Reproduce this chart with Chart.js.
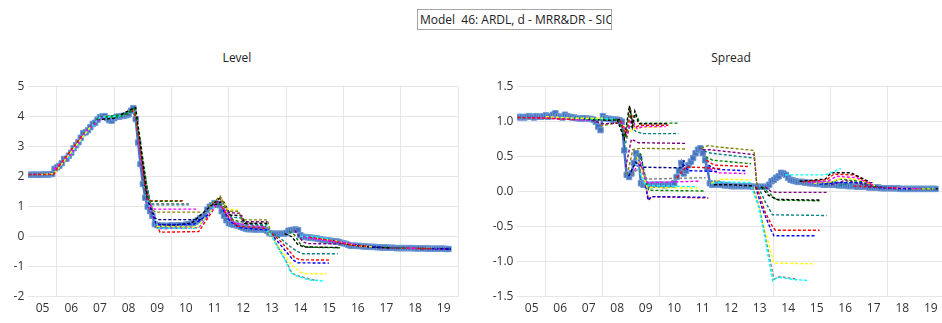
<!DOCTYPE html>
<html>
<head>
<meta charset="utf-8">
<script src="https://cdn.jsdelivr.net/npm/chart.js@4.4.1/dist/chart.umd.min.js"></script>
<style>
  html, body { margin: 0; padding: 0; background: #fff; overflow: hidden; }
  #wrap { position: relative; width: 942px; height: 323px; overflow: hidden; font-family: "Open Sans", sans-serif; color: #333; }
  #title { position: absolute; left: 417px; top: 9px; width: 195px; height: 21px; box-sizing: border-box; border: 1px solid #a6a6a6;
           font-size: 12px; line-height: 19px; padding-left: 2px; white-space: nowrap; overflow: hidden; color: #222; }
  .ptitle { position: absolute; top: 49px; font-size: 12px; line-height: 17px; transform: translateX(-50%); color: #222; }
  canvas { position: absolute; top: 0; }
</style>
</head>
<body>
<div id="wrap">
  <div id="title">Model&nbsp; 46: ARDL, d - MRR&amp;DR - SIC</div>
  <div class="ptitle" style="left:237px">Level</div>
  <div class="ptitle" style="left:731px">Spread</div>
  <canvas id="levelChart" width="470" height="323" style="left:0"></canvas>
  <canvas id="spreadChart" width="480" height="323" style="left:470px"></canvas>
</div>
<script>
// monthly observations, Jan 2005 .. Sep 2019
const firstYear = 2005;

const levelActual = [
  2.07, 2.06, 2.07, 2.07, 2.06, 2.07, 2.07, 2.08, 2.07, 2.08, 2.09, 2.26,
  2.31, 2.36, 2.45, 2.59, 2.6, 2.7, 2.8, 2.95, 3.05, 3.15, 3.3, 3.45,
  3.48, 3.55, 3.65, 3.76, 3.8, 3.9, 3.98, 4.01, 4.02, 3.95, 3.88, 3.87,
  3.95, 4.0, 4.0, 4.02, 4.03, 4.05, 4.08, 4.2, 4.28, 3.92, 3.14, 2.42,
  1.76, 1.3, 1.0, 0.85, 0.7, 0.42, 0.38, 0.37, 0.37, 0.36, 0.36, 0.37,
  0.38, 0.37, 0.37, 0.38, 0.38, 0.38, 0.4, 0.42, 0.43, 0.45, 0.5, 0.55,
  0.62, 0.66, 0.7, 0.9, 1.0, 1.05, 1.12, 1.1, 1.05, 0.85, 0.7, 0.55,
  0.45, 0.42, 0.4, 0.38, 0.36, 0.33, 0.3, 0.27, 0.25, 0.25, 0.25, 0.24,
  0.24, 0.25, 0.24, 0.24, 0.2, 0.12, 0.1, 0.1, 0.1, 0.1, 0.1, 0.1,
  0.12, 0.2, 0.22, 0.23, 0.24, 0.22, 0.05, 0.0, -0.01, -0.02, -0.03, -0.04,
  -0.05, -0.06, -0.08, -0.1, -0.11, -0.12, -0.13, -0.14, -0.15, -0.16, -0.17, -0.2,
  -0.22, -0.24, -0.27, -0.3, -0.3, -0.3, -0.31, -0.31, -0.32, -0.33, -0.33, -0.34,
  -0.34, -0.34, -0.35, -0.35, -0.36, -0.36, -0.36, -0.37, -0.37, -0.37, -0.38, -0.38,
  -0.38, -0.38, -0.38, -0.38, -0.38, -0.38, -0.39, -0.39, -0.39, -0.39, -0.39, -0.39,
  -0.4, -0.4, -0.4, -0.4, -0.4, -0.4, -0.4, -0.41, -0.41
];

const spreadActual = [
  1.07, 1.06, 1.07, 1.06, 1.07, 1.08, 1.07, 1.06, 1.08, 1.07, 1.07, 1.08,
  1.09, 1.07, 1.08, 1.1, 1.12, 1.08, 1.07, 1.06, 1.1, 1.08, 1.07, 1.06,
  1.06, 1.05, 1.05, 1.04, 1.05, 1.05, 1.04, 1.04, 1.03, 1.0, 0.93, 0.88,
  1.08, 1.05, 1.04, 1.04, 1.03, 1.03, 1.03, 1.02, 1.0, 0.59, 0.24, 0.21,
  0.26, 0.41, 0.55, 0.5, 0.12, 0.1, 0.1, 0.1, 0.09, 0.1, 0.1, 0.1,
  0.1, 0.1, 0.09, 0.1, 0.1, 0.1, 0.12, 0.21, 0.3, 0.41, 0.26, 0.3,
  0.38, 0.43, 0.48, 0.55, 0.6, 0.62, 0.55, 0.45, 0.33, 0.12, 0.1, 0.1,
  0.12, 0.1, 0.1, 0.09, 0.09, 0.09, 0.08, 0.08, 0.08, 0.08, 0.08, 0.08,
  0.08, 0.08, 0.08, 0.07, 0.07, 0.07, 0.07, 0.07, 0.07, 0.07, 0.1, 0.15,
  0.17, 0.2, 0.22, 0.27, 0.26, 0.24, 0.2, 0.17, 0.16, 0.15, 0.14, 0.14,
  0.14, 0.13, 0.13, 0.12, 0.12, 0.12, 0.11, 0.11, 0.11, 0.1, 0.1, 0.1,
  0.1, 0.1, 0.1, 0.09, 0.09, 0.09, 0.09, 0.08, 0.08, 0.08, 0.08, 0.07,
  0.07, 0.07, 0.07, 0.07, 0.06, 0.06, 0.06, 0.06, 0.06, 0.05, 0.05, 0.05,
  0.05, 0.05, 0.05, 0.05, 0.05, 0.04, 0.04, 0.04, 0.04, 0.04, 0.04, 0.04,
  0.04, 0.04, 0.04, 0.04, 0.04, 0.04, 0.04, 0.04, 0.04
];

// forecast paths: [date, value] break points
const levelForecasts = [
  [[2005.0, 2.07], [2005.9, 2.08], [2006.0, 2.27], [2006.9, 3.4]],
  [[2005.4, 2.07], [2005.9, 2.1], [2006.3, 2.58], [2007.2, 3.7]],
  [[2005.9, 2.25], [2006.5, 2.75], [2007.0, 3.5], [2007.6, 4.0]],
  [[2006.4, 2.6], [2007.0, 3.45], [2007.5, 3.98], [2008.3, 4.03]],
  [[2006.9, 3.4], [2007.5, 4.0], [2008.2, 4.0], [2008.6, 4.2]],
  [[2007.4, 3.9], [2008.0, 3.95], [2008.6, 4.25], [2008.75, 4.3], [2009.15, 1.3]],
  [[2007.7, 4.0], [2008.5, 4.1], [2008.7, 4.28], [2008.85, 3.6], [2009.2, 1.3], [2009.25, 1.18], [2010.35, 1.18]],
  [[2008.6, 4.25], [2008.75, 4.0], [2009.15, 1.3], [2009.2, 1.2], [2010.4, 1.2]],
  [[2008.7, 4.2], [2008.85, 3.4], [2009.2, 1.2], [2009.3, 1.1], [2010.6, 1.1]],
  [[2008.8, 3.7], [2008.95, 2.7], [2009.25, 1.15], [2009.35, 1.06], [2010.6, 1.06]],
  [[2008.85, 3.2], [2009.0, 2.2], [2009.3, 1.0], [2009.4, 0.92], [2010.9, 0.92]],
  [[2008.9, 3.0], [2009.05, 1.8], [2009.35, 0.88], [2009.45, 0.82], [2011.0, 0.82]],
  [[2008.95, 2.6], [2009.1, 1.5], [2009.4, 0.65], [2009.5, 0.57], [2011.05, 0.57]],
  [[2009.0, 2.3], [2009.15, 1.25], [2009.45, 0.45], [2009.55, 0.4], [2010.8, 0.42], [2011.3, 0.75]],
  [[2009.05, 1.8], [2009.2, 1.1], [2009.5, 0.35], [2010.9, 0.32], [2011.4, 0.9]],
  [[2009.1, 1.4], [2009.3, 0.85], [2009.55, 0.28], [2010.9, 0.28], [2011.5, 1.0]],
  [[2009.15, 1.2], [2009.35, 0.65], [2009.6, 0.27], [2010.95, 0.3], [2011.55, 1.05]],
  [[2009.2, 1.0], [2009.45, 0.45], [2009.6, 0.15], [2010.95, 0.17], [2011.6, 1.1]],
  [[2009.5, 0.42], [2010.0, 0.38], [2010.7, 0.45], [2011.4, 1.05], [2011.7, 1.3]],
  [[2011.3, 1.0], [2011.7, 1.35], [2011.95, 0.85], [2012.35, 0.85], [2012.45, 0.56], [2013.35, 0.56], [2013.45, 0.15]],
  [[2011.35, 1.02], [2011.72, 1.3], [2011.95, 0.92], [2012.3, 0.9]],
  [[2011.4, 1.05], [2011.75, 1.25], [2012.0, 0.8], [2012.4, 0.78], [2012.5, 0.5], [2013.35, 0.5]],
  [[2011.5, 1.05], [2011.8, 1.2], [2012.05, 0.72], [2012.45, 0.7], [2012.55, 0.45], [2013.35, 0.45]],
  [[2011.6, 1.1], [2011.85, 1.1], [2012.1, 0.65], [2012.5, 0.62], [2012.6, 0.4], [2013.35, 0.4]],
  [[2011.65, 1.1], [2011.9, 0.95], [2012.15, 0.55], [2013.3, 0.35]],
  [[2011.7, 1.05], [2011.95, 0.8], [2012.2, 0.45], [2013.3, 0.32]],
  [[2011.75, 1.0], [2012.0, 0.65], [2012.3, 0.35], [2013.3, 0.28]],
  [[2011.8, 0.9], [2012.05, 0.5], [2012.4, 0.3], [2013.35, 0.22]],
  [[2013.3, 0.22], [2013.45, 0.1], [2013.7, -0.35], [2014.0, -0.85], [2014.17, -1.2], [2014.35, -1.3], [2014.8, -1.44], [2015.35, -1.48]],
  [[2013.35, 0.2], [2013.5, 0.05], [2013.75, -0.4], [2014.05, -0.9], [2014.2, -1.22], [2014.4, -1.3], [2014.85, -1.42], [2015.1, -1.46]],
  [[2013.4, 0.12], [2013.6, -0.15], [2013.9, -0.55], [2014.2, -0.95], [2014.5, -1.18], [2014.65, -1.23], [2015.4, -1.24]],
  [[2013.45, 0.1], [2013.7, -0.15], [2014.0, -0.5], [2014.25, -0.78], [2014.4, -0.87], [2015.5, -0.88]],
  [[2013.5, 0.1], [2013.75, -0.1], [2014.05, -0.4], [2014.3, -0.7], [2014.5, -0.77], [2015.5, -0.78]],
  [[2013.55, 0.1], [2013.8, -0.05], [2014.1, -0.3], [2014.4, -0.5], [2014.6, -0.57], [2015.8, -0.57]],
  [[2013.95, 0.1], [2014.2, 0.0], [2014.4, -0.25], [2014.6, -0.34], [2015.8, -0.36]],
  [[2014.1, 0.18], [2014.3, 0.05], [2014.5, -0.25], [2014.7, -0.35], [2015.9, -0.37]],
  [[2014.3, 0.22], [2014.45, 0.0], [2014.6, -0.18], [2014.75, -0.23], [2015.95, -0.24]],
  [[2014.6, 0.0], [2015.0, -0.08], [2015.6, -0.15], [2016.4, -0.25]],
  [[2014.8, -0.02], [2015.5, -0.12], [2016.2, -0.27], [2016.8, -0.32]],
  [[2015.0, -0.05], [2015.7, -0.14], [2016.4, -0.29], [2017.0, -0.34]],
  [[2015.3, -0.1], [2016.0, -0.2], [2016.6, -0.3], [2017.3, -0.36]],
  [[2015.6, -0.13], [2016.3, -0.28], [2017.0, -0.35], [2017.6, -0.37]],
  [[2014.5, 0.02], [2015.0, 0.0], [2015.5, -0.08]],
  [[2016.0, -0.22], [2016.8, -0.32], [2017.6, -0.37], [2018.2, -0.38]],
  [[2016.5, -0.3], [2017.3, -0.36], [2018.0, -0.38], [2018.6, -0.39]],
  [[2017.0, -0.35], [2017.8, -0.38], [2018.6, -0.39], [2019.0, -0.4]],
  [[2017.5, -0.37], [2018.3, -0.38], [2019.0, -0.4], [2019.7, -0.41]],
  [[2018.0, -0.38], [2018.8, -0.39], [2019.4, -0.4]],
  [[2018.5, -0.39], [2019.2, -0.4], [2019.75, -0.41]],
  [[2019.0, -0.4], [2019.7, -0.4]]
];

const spreadForecasts = [
  [[2005.0, 1.06], [2006.0, 1.05], [2007.0, 1.03]],
  [[2005.5, 1.06], [2006.5, 1.04], [2007.5, 1.02]],
  [[2006.0, 1.07], [2007.0, 1.05], [2008.0, 1.05]],
  [[2006.5, 1.06], [2007.5, 1.04], [2008.4, 1.04]],
  [[2007.0, 1.05], [2008.0, 1.03], [2008.5, 1.03]],
  [[2007.3, 1.04], [2008.2, 1.02], [2008.6, 1.03]],
  [[2007.6, 1.02], [2008.0, 0.97], [2008.55, 0.98]],
  [[2007.9, 0.94], [2008.3, 0.97], [2008.6, 0.99]],
  [[2008.5, 1.03], [2008.75, 0.75], [2008.93, 1.23], [2009.03, 0.93], [2009.12, 1.15], [2009.25, 0.97], [2010.3, 0.97]],
  [[2008.55, 1.03], [2008.78, 0.77], [2008.95, 1.2], [2009.05, 0.95], [2009.15, 1.12], [2009.3, 0.98], [2010.65, 0.98]],
  [[2008.6, 1.02], [2008.82, 0.8], [2008.98, 1.15], [2009.1, 0.92], [2009.35, 0.95], [2010.3, 0.95]],
  [[2008.65, 1.0], [2008.85, 0.82], [2009.0, 1.05], [2009.2, 0.9], [2009.4, 0.93], [2010.2, 0.93]],
  [[2008.7, 0.95], [2008.9, 0.85], [2009.1, 0.9], [2009.4, 0.92], [2010.0, 0.92]],
  [[2008.75, 0.62], [2008.95, 0.95], [2009.15, 0.86], [2009.4, 0.83], [2010.65, 0.83]],
  [[2008.8, 0.35], [2009.0, 0.75], [2009.25, 0.7], [2010.9, 0.69]],
  [[2008.85, 0.24], [2009.05, 0.6], [2009.3, 0.62], [2010.95, 0.61]],
  [[2008.9, 0.22], [2009.15, 0.42], [2009.4, 0.35], [2010.8, 0.34], [2010.85, 0.45]],
  [[2009.0, 0.24], [2009.25, 0.33], [2009.55, 0.18], [2011.6, 0.2]],
  [[2009.1, 0.3], [2009.3, 0.42], [2009.55, 0.13], [2011.4, 0.15]],
  [[2009.15, 0.4], [2009.5, 0.09], [2011.3, 0.07]],
  [[2009.2, 0.5], [2009.55, 0.06], [2011.4, 0.05]],
  [[2009.3, 0.55], [2009.6, 0.02], [2011.55, 0.01]],
  [[2009.35, 0.5], [2009.58, -0.12], [2009.7, -0.07], [2011.6, -0.08]],
  [[2009.4, 0.3], [2009.6, -0.12], [2009.72, -0.07], [2011.7, -0.09]],
  [[2010.6, 0.2], [2010.9, 0.35], [2011.2, 0.35], [2012.1, 0.33]],
  [[2010.8, 0.4], [2011.0, 0.3], [2012.0, 0.29]],
  [[2011.45, 0.62], [2011.7, 0.66], [2012.0, 0.64], [2013.3, 0.59], [2013.4, 0.1]],
  [[2011.5, 0.6], [2011.75, 0.6], [2013.3, 0.53], [2013.4, 0.1]],
  [[2011.55, 0.58], [2011.8, 0.55], [2013.3, 0.48]],
  [[2011.6, 0.5], [2011.85, 0.45], [2013.2, 0.4]],
  [[2011.63, 0.45], [2011.9, 0.38], [2013.1, 0.36]],
  [[2011.7, 0.38], [2011.95, 0.32], [2013.0, 0.3]],
  [[2011.75, 0.33], [2012.0, 0.27], [2013.0, 0.26]],
  [[2011.8, 0.12], [2012.1, 0.18], [2013.2, 0.17]],
  [[2011.85, 0.12], [2012.2, 0.14], [2013.25, 0.13]],
  [[2011.9, 0.1], [2012.5, 0.1], [2013.3, 0.08]],
  [[2013.2, 0.08], [2013.45, -0.2], [2013.7, -0.7], [2013.95, -1.27], [2014.15, -1.22], [2014.6, -1.25], [2015.2, -1.27]],
  [[2013.25, 0.08], [2013.5, -0.25], [2013.75, -0.75], [2014.0, -1.25], [2014.2, -1.21], [2014.8, -1.25]],
  [[2013.3, 0.07], [2013.55, -0.35], [2013.85, -0.8], [2014.0, -1.02], [2015.35, -1.03]],
  [[2013.35, 0.07], [2013.6, -0.25], [2013.9, -0.55], [2014.0, -0.63], [2015.43, -0.63]],
  [[2013.4, 0.07], [2013.7, -0.3], [2013.95, -0.5], [2014.05, -0.55], [2015.6, -0.55]],
  [[2013.45, 0.07], [2013.7, -0.15], [2013.95, -0.33], [2015.85, -0.34]],
  [[2013.55, 0.07], [2013.8, -0.05], [2014.1, -0.11], [2015.65, -0.12]],
  [[2013.6, 0.07], [2013.85, -0.03], [2014.1, -0.12], [2015.6, -0.13]],
  [[2013.7, 0.07], [2013.9, 0.0], [2014.1, -0.01], [2015.9, -0.01]],
  [[2014.4, 0.24], [2015.8, 0.24], [2016.35, 0.33]],
  [[2014.9, 0.15], [2015.8, 0.18], [2016.0, 0.27], [2016.7, 0.27], [2017.3, 0.15]],
  [[2015.0, 0.14], [2015.85, 0.17], [2016.1, 0.25], [2016.8, 0.24], [2017.4, 0.12]],
  [[2015.2, 0.13], [2015.9, 0.15], [2016.2, 0.22], [2016.9, 0.2], [2017.5, 0.09]],
  [[2015.4, 0.12], [2016.0, 0.14], [2016.4, 0.2], [2017.0, 0.17], [2017.6, 0.08]],
  [[2015.6, 0.11], [2016.0, 0.12], [2016.2, 0.13], [2017.5, 0.13]],
  [[2015.8, 0.1], [2016.3, 0.18], [2017.0, 0.15], [2017.6, 0.07]],
  [[2016.0, 0.1], [2016.5, 0.16], [2017.2, 0.1], [2017.8, 0.06]],
  [[2016.3, 0.09], [2016.8, 0.14], [2017.5, 0.08], [2018.0, 0.06]],
  [[2016.8, 0.08], [2017.5, 0.07], [2018.3, 0.05]],
  [[2017.3, 0.07], [2018.0, 0.05], [2018.8, 0.04]],
  [[2017.8, 0.06], [2018.5, 0.05], [2019.2, 0.04]],
  [[2018.3, 0.05], [2019.0, 0.04], [2019.6, 0.04]],
  [[2018.8, 0.04], [2019.5, 0.04], [2019.75, 0.04]],
  [[2019.0, 0.04], [2019.7, 0.05]]
];

// line colours, one per forecast path
const levelColors = [
  'red', 'yellow', 'magenta', 'cyan', 'green', 'black', 'green', 'red', 'gray', 'teal',
  'magenta', 'olive', 'navy', 'blue', 'yellow', 'cyan', 'magenta', 'red', 'black',
  'olive', 'yellow', 'purple', 'black', 'teal', 'green', 'magenta', 'red', 'blue',
  'cyan', 'gray', 'yellow', 'blue', 'red', 'teal', 'black', 'green', 'purple',
  'magenta', 'red', 'yellow', 'blue', 'black', 'cyan', 'green', 'magenta', 'red', 'blue', 'yellow', 'black', 'magenta'
];
const spreadColors = [
  'red', 'magenta', 'yellow', 'cyan', 'green', 'black', 'purple', 'olive',
  'black', 'green', 'red', 'magenta', 'yellow', 'teal', 'purple', 'olive', 'navy', 'gray', 'magenta', 'cyan', 'yellow', 'green', 'blue', 'red',
  'red', 'blue',
  'olive', 'purple', 'teal', 'green', 'red', 'blue', 'magenta', 'yellow', 'cyan', 'black',
  'cyan', 'gray', 'yellow', 'blue', 'red', 'teal', 'black', 'green', 'purple',
  'cyan', 'black', 'red', 'magenta', 'yellow', 'blue', 'green', 'purple', 'teal', 'red', 'blue', 'magenta', 'yellow', 'black', 'cyan'
];

const tickFont = { family: '"Open Sans", sans-serif', size: 12 };
const tickColor = '#333';
const gridColor = '#e6e6e6';

function buildChart(id, actual, forecasts, colors, yMin, yMax, yStep, decimals, axisWidth, padRight) {
  const datasets = forecasts.map((path, i) => ({
    data: path.map(p => ({ x: p[0], y: p[1] })),
    borderColor: colors[i],
    borderWidth: 1.4,
    borderDash: [3, 2],
    pointRadius: 0,
    fill: false,
    order: 0
  }));
  datasets.push({
    data: actual.map((v, i) => ({ x: firstYear + i / 12, y: v })),
    borderColor: '#4673bd',
    borderWidth: 2.5,
    backgroundColor: '#4673bd',
    pointBackgroundColor: '#4673bd',
    pointBorderColor: '#6d98d4',
    pointBorderWidth: 1,
    pointStyle: 'rect',
    pointRadius: 3.8,
    fill: false,
    order: 1
  });

  return new Chart(document.getElementById(id), {
    type: 'line',
    data: { datasets: datasets },
    options: {
      responsive: false,
      animation: false,
      layout: { padding: { top: 86.7, bottom: 0, left: 0, right: padRight } },
      plugins: { legend: { display: false }, tooltip: { enabled: false }, title: { display: false } },
      scales: {
        x: {
          type: 'linear',
          min: 2005,
          max: 2020,
          afterFit: s => { s.height = 26.3; },
          border: { display: false },
          grid: {
            drawTicks: false,
            color: ctx => (ctx.tick && ctx.tick.value % 2 === 0) ? gridColor : 'rgba(0,0,0,0)'
          },
          ticks: {
            stepSize: 0.5,
            autoSkip: false,
            maxRotation: 0,
            padding: 5,
            font: tickFont,
            color: tickColor,
            callback: v => (v % 1 === 0.5) ? String(Math.floor(v)).slice(2) : ''
          }
        },
        y: {
          min: yMin,
          max: yMax,
          afterFit: s => { s.width = axisWidth; },
          border: { display: false },
          grid: { drawTicks: false, color: gridColor },
          ticks: {
            stepSize: yStep,
            padding: 4,
            font: tickFont,
            color: tickColor,
            callback: v => v.toFixed(decimals)
          }
        }
      }
    }
  });
}

buildChart('levelChart', levelActual, levelForecasts, levelColors, -2, 5, 1, 0, 28.3, 12);
buildChart('spreadChart', spreadActual, spreadForecasts, spreadColors, -1.5, 1.5, 0.5, 1, 47.4, 3.6);
</script>
</body>
</html>
